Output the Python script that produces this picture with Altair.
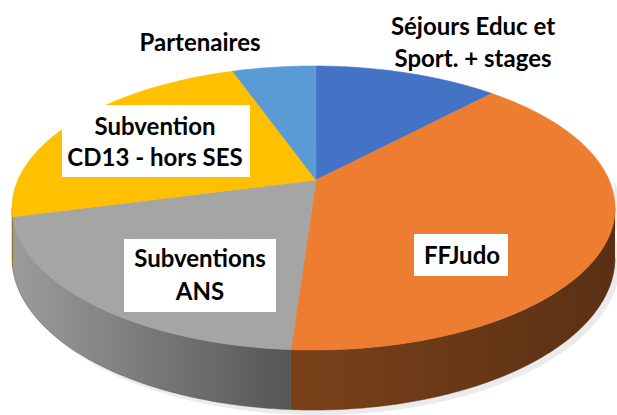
import numpy as np
import pandas as pd
import altair as alt

# ---- data ----
categories = ["Séjours Educ et Sport. + stages", "FFJudo", "Subventions ANS",
              "Subvention CD13 - hors SES", "Partenaires"]
values = [12.0, 39.1, 19.8, 23.7, 5.4]
label_lines = [["Séjours Educ et", "Sport. + stages"], ["FFJudo"], ["Subventions", "ANS"],
               ["Subvention", "CD13 - hors SES"], ["Partenaires"]]

# ---- styles / layout ----
top_colors = ["#4472C4", "#ED7D31", "#A5A5A5", "#FFC000", "#5B9BD5"]
side_stops = [["#2d4a80", "#22385f"], ["#7a4119", "#5a3014"], ["#9c9c9c", "#555555"],
              ["#b58a00", "#8a6a00"], ["#3c6a94", "#2c5070"]]
W, H = 617, 415
CX, CY, A, B = 313.5, 208.0, 301.5, 142.0   # projected ellipse of the top face
PX, PY = 316.0, 180.0                        # projected pie centre
label_pos = [[(473, 28), (473, 60)], [(462, 257)], [(200, 260), (200, 293)],
             [(155, 128), (155, 159)], [(200, 44)]]
label_box = [None, (414, 508, 234, 276), (124, 276, 239, 312), (62, 250, 105, 177), None]
FONT = "Lato"
FSIZE = 24

# perspective mapping of the unit circle onto the ellipse
p = complex((PX - CX) / A, (PY - CY) / B)
q = p / (1 + np.sqrt(1 - abs(p) ** 2))


def rim_w(theta_deg):
    t = np.radians(theta_deg)
    z = np.sin(t) - 1j * np.cos(t)
    return (z + q) / (1 + np.conj(q) * z)


def depth(alpha):
    return 50 + 10 * np.sin(alpha)


xs = alt.Scale(domain=[0, W], nice=False, zero=False)
ys = alt.Scale(domain=[0, H], nice=False, zero=False, reverse=True)

total = sum(values)
cum = np.concatenate([[0], np.cumsum(values)]) / total * 360

layers = []

# shadow
al = np.linspace(-0.2, np.pi + 0.2, 80)
sh = pd.DataFrame({
    "x": np.concatenate([CX + A * np.cos(al), (CX + A * np.cos(al))[::-1]]) + 5,
    "y": np.concatenate([CY + B * np.sin(al) + depth(np.clip(al, 0, np.pi)) + 5,
                         (CY + B * np.sin(al))[::-1]]),
})
sh["o"] = range(len(sh))
layers.append(alt.Chart(sh).mark_line(fill="#000000", fillOpacity=0.08, strokeOpacity=0)
              .encode(x=alt.X("x:Q", scale=xs, axis=None), y=alt.Y("y:Q", scale=ys, axis=None),
                      order="o:Q"))

# sides
for i, cat in enumerate(categories):
    a0 = np.angle(rim_w(cum[i]))
    a1 = np.angle(rim_w(cum[i + 1]))
    d = (a1 - a0) % (2 * np.pi)
    a1 = a0 + d
    for lo_v, hi_v in [(0, np.pi), (2 * np.pi, 3 * np.pi), (-2 * np.pi, -np.pi)]:
        lo, hi = max(a0, lo_v), min(a1, hi_v)
        if hi <= lo:
            continue
        al = np.linspace(lo, hi, max(int((hi - lo) / 0.01), 3))
        tx = CX + A * np.cos(al)
        ty = CY + B * np.sin(al)
        by = ty + depth(al)
        df = pd.DataFrame({"x": np.concatenate([tx, tx[::-1]]),
                           "y": np.concatenate([ty, by[::-1]])})
        df["o"] = range(len(df))
        grad = alt.Gradient(gradient="linear", x1=0, x2=1, y1=0, y2=0,
                            stops=[alt.GradientStop(color=side_stops[i][0], offset=0),
                                   alt.GradientStop(color=side_stops[i][1], offset=1)])
        layers.append(alt.Chart(df).mark_line(fill=grad, stroke=side_stops[i][1], strokeWidth=0.5)
                      .encode(x=alt.X("x:Q", scale=xs, axis=None),
                              y=alt.Y("y:Q", scale=ys, axis=None), order="o:Q"))

# tops
for i, cat in enumerate(categories):
    t0, t1 = cum[i], cum[i + 1]
    ts = np.linspace(t0, t1, max(int(t1 - t0) * 2, 4))
    w = rim_w(ts)
    xx = np.concatenate([[PX], CX + A * w.real, [PX]])
    yy = np.concatenate([[PY], CY + B * w.imag, [PY]])
    df = pd.DataFrame({"x": xx, "y": yy, "o": range(len(xx))})
    layers.append(alt.Chart(df).mark_line(fill=top_colors[i], stroke=top_colors[i], strokeWidth=0.6)
                  .encode(x=alt.X("x:Q", scale=xs, axis=None),
                          y=alt.Y("y:Q", scale=ys, axis=None), order="o:Q"))

# label boxes
boxes = [dict(x=b[0], x2=b[1], y=b[2], y2=b[3]) for b in label_box if b]
layers.append(alt.Chart(pd.DataFrame(boxes)).mark_rect(fill="white")
              .encode(x=alt.X("x:Q", scale=xs, axis=None), x2="x2:Q",
                      y=alt.Y("y:Q", scale=ys, axis=None), y2="y2:Q"))

# labels
trows = []
for lines, pos in zip(label_lines, label_pos):
    for t, (lx, ly) in zip(lines, pos):
        trows.append(dict(t=t, x=lx, y=ly))
layers.append(alt.Chart(pd.DataFrame(trows)).mark_text(font=FONT, fontSize=FSIZE, fontWeight="bold",
                                                        color="#000000", baseline="middle", align="center")
              .encode(x=alt.X("x:Q", scale=xs, axis=None), y=alt.Y("y:Q", scale=ys, axis=None),
                      text="t:N"))

chart = alt.layer(*layers).properties(width=W, height=H, padding=0,
                                      autosize=alt.AutoSizeParams(type="none")
                                      ).configure_view(stroke=None)
chart.save("out.html", embed_options={"renderer": "svg", "actions": False})
